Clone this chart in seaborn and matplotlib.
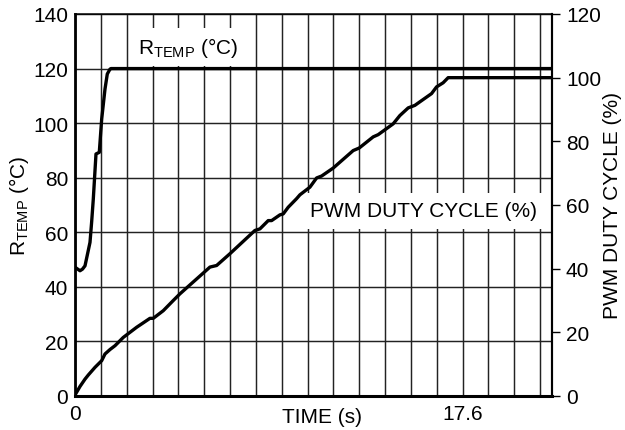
import numpy as np
import pandas as pd
import seaborn as sns
import matplotlib
matplotlib.use("Agg")
import matplotlib.pyplot as plt
from matplotlib.ticker import MultipleLocator, FixedLocator

# Resistor temperature (left axis, °C) versus time (s)
rtemp_time = [0.0, 0.227, 0.34, 0.454, 0.681, 0.758, 0.831, 0.953, 1.103,
              1.212, 1.362, 1.466, 1.589, 1.634, 21.66]
rtemp_value = [47.2, 45.9, 46.5, 47.7, 56.3, 64.0, 72.2, 88.7, 89.3,
               101.5, 112.5, 118.0, 119.8, 120.0, 120.0]

# PWM duty cycle (right axis, %) versus time (s)
pwm_time = [0.0, 0.227, 0.454, 0.604, 0.908, 1.212, 1.362, 1.589, 1.816,
            2.192, 2.801, 3.404, 3.554, 4.008, 4.462, 4.766, 5.220, 6.128,
            6.432, 7.036, 8.170, 8.397, 8.774, 8.928, 9.305, 9.455, 9.682,
            10.063, 10.213, 10.667, 10.971, 11.198, 11.724, 12.632, 12.905,
            13.540, 13.767, 14.448, 14.752, 15.129, 15.433, 16.191, 16.418,
            16.717, 16.944, 21.66]
pwm_value = [0.3, 3.0, 5.3, 6.6, 9.0, 11.1, 13.2, 14.6, 15.8,
             18.4, 21.6, 24.4, 24.4, 26.8, 30.0, 32.1, 34.9, 40.5,
             41.0, 44.7, 52.0, 52.5, 55.1, 55.1, 56.9, 57.2, 59.3,
             62.0, 63.2, 65.6, 68.5, 69.1, 71.6, 77.1, 77.9,
             81.4, 82.1, 85.5, 88.1, 90.5, 91.3, 95.0, 97.1,
             98.4, 100.0, 100.0]

x_tick_values = [0, 17.6]
x_tick_labels = ["0", "17.6"]
left_ticks = [0, 20, 40, 60, 80, 100, 120, 140]
right_ticks = [0, 20, 40, 60, 80, 100, 120]

sns.set_style("white")
plt.rcParams["font.family"] = ["Liberation Sans", "DejaVu Sans"]
plt.rcParams["mathtext.fontset"] = "custom"
plt.rcParams["mathtext.rm"] = "Liberation Sans"
plt.rcParams["mathtext.it"] = "Liberation Sans:italic"
plt.rcParams["mathtext.bf"] = "Liberation Sans:bold"
plt.rcParams["text.color"] = "black"
plt.rcParams["axes.labelcolor"] = "black"
plt.rcParams["xtick.color"] = "black"
plt.rcParams["ytick.color"] = "black"

FS = 15
grid_step = 17.6 / 15
x_max = 21.66

fig = plt.figure(figsize=(6.25, 4.31), dpi=100)
ax = fig.add_axes([75 / 625, 34 / 431, 477 / 625, 382 / 431])

rtemp_df = pd.DataFrame({"time": rtemp_time, "rtemp": rtemp_value})
pwm_df = pd.DataFrame({"time": pwm_time, "pwm": pwm_value})

sns.lineplot(data=rtemp_df, x="time", y="rtemp", ax=ax, color="black",
             lw=2.4, estimator=None, sort=False, zorder=4)

ax.set_xlim(0, x_max)
ax.set_ylim(0, 140)
ax.yaxis.set_major_locator(FixedLocator(left_ticks))
ax.set_yticklabels([str(t) for t in left_ticks])
ax.xaxis.set_major_locator(FixedLocator(x_tick_values))
ax.set_xticklabels(x_tick_labels)
ax.xaxis.set_minor_locator(MultipleLocator(grid_step))

ax.set_axisbelow(True)
ax.grid(True, which="both", axis="x", color="#222222", lw=1.05)
ax.grid(True, which="major", axis="y", color="#222222", lw=1.05)
ax.tick_params(axis="both", which="both", length=0, labelsize=FS,
               colors="black")
ax.tick_params(axis="y", pad=5)
ax.tick_params(axis="x", pad=6)

for side, w in [("left", 2.0), ("bottom", 2.2), ("top", 1.1), ("right", 1.5)]:
    ax.spines[side].set_visible(True)
    ax.spines[side].set_linewidth(w)
    ax.spines[side].set_color("black")

ax.set_xlabel("TIME (s)", fontsize=FS, color="black")
ax.xaxis.set_label_coords(0.518, -0.029)
ax.set_ylabel(r"R$_{\mathrm{TEMP}}$ (°C)", fontsize=FS, color="black")
ax.yaxis.label.set_va("center")
ax.yaxis.set_label_coords(-0.117, 0.5)

ax.text(2.86, 127.9, r"R$_{\mathrm{TEMP}}$ (°C)", fontsize=FS, ha="left",
        va="center", zorder=3, color="black",
        bbox=dict(facecolor="white", edgecolor="none", pad=5))
ax.text(10.67, 67.9, "PWM DUTY CYCLE (%)", fontsize=FS, ha="left",
        va="center", zorder=3, color="black",
        bbox=dict(facecolor="white", edgecolor="none", pad=6))

ax2 = ax.twinx()
sns.lineplot(data=pwm_df, x="time", y="pwm", ax=ax2, color="black",
             lw=2.4, estimator=None, sort=False, zorder=4)
ax2.set_ylim(0, 120)
ax2.set_xlim(0, x_max)
ax2.yaxis.set_major_locator(FixedLocator(right_ticks))
ax2.set_yticklabels([str(t) for t in right_ticks])
ax2.tick_params(axis="y", direction="out", length=6, width=1.0,
                labelsize=FS, pad=4, colors="black")
for side in ["left", "bottom", "top"]:
    ax2.spines[side].set_visible(False)
ax2.spines["right"].set_linewidth(1.5)
ax2.spines["right"].set_color("black")
ax2.set_ylabel("PWM DUTY CYCLE (%)", fontsize=FS, color="black")
ax2.yaxis.label.set_va("center")
ax2.yaxis.set_label_coords(1.1258, 0.5)
ax2.set_xlabel("")

fig.savefig("out.png", dpi=100)
